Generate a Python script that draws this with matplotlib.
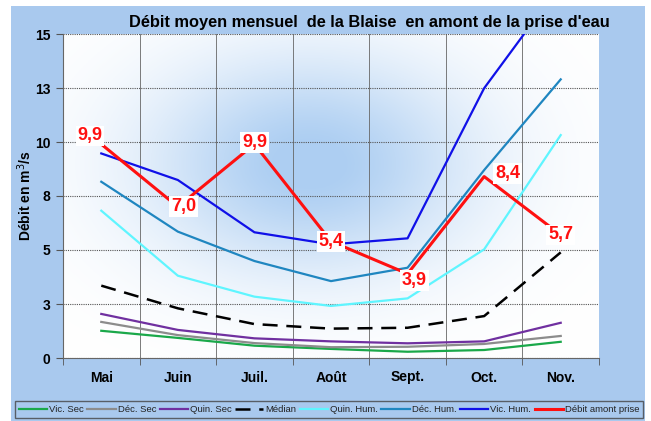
import numpy as np
import matplotlib
matplotlib.use("Agg")
import matplotlib.pyplot as plt
from matplotlib.patches import Rectangle

plt.rcParams["font.family"] = ["Liberation Sans", "DejaVu Sans"]

mois = ["Mai", "Juin", "Juil.", "Août", "Sept.", "Oct.", "Nov."]

vic_sec = [1.26, 0.93, 0.57, 0.42, 0.29, 0.37, 0.75]
dec_sec = [1.67, 1.06, 0.69, 0.50, 0.52, 0.65, 1.02]
quin_sec = [2.04, 1.30, 0.91, 0.77, 0.68, 0.77, 1.63]
median = [3.35, 2.30, 1.57, 1.36, 1.40, 1.94, 4.89]
quin_hum = [6.82, 3.81, 2.84, 2.41, 2.76, 5.03, 10.32]
dec_hum = [8.16, 5.85, 4.49, 3.56, 4.18, 8.70, 12.90]
vic_hum = [9.47, 8.24, 5.82, 5.26, 5.54, 12.49, 17.3]
debit_prise = [9.9, 7.0, 9.9, 5.4, 3.9, 8.4, 5.7]

# offsets of the value labels (points)
label_off = [(-8, 6), (4, 0), (0, 1), (0, 0), (5, -5), (17, 2), (0, 0)]

bg_blue = "#a9c9ee"

fig = plt.figure(figsize=(6.51, 4.21), dpi=100)
fig.patch.set_facecolor("white")
# blue chart area with thin white border top/left/right
fig.patches.append(Rectangle((11 / 651, 0), (645 - 11) / 651, 1 - 6 / 421,
                             transform=fig.transFigure, facecolor=bg_blue,
                             edgecolor="none", zorder=-10))

ax = fig.add_axes([63 / 651, 1 - 358 / 421, (599 - 63) / 651, (358 - 34) / 421])
ax.set_zorder(2)
ax.set_facecolor("white")

# soft blue blob in the plot area
gx, gy = np.meshgrid(np.linspace(0, 1, 300), np.linspace(0, 1, 200))
blob = np.exp(-((gx - 0.46) / 0.30) ** 2 - ((gy - 0.60) / 0.33) ** 2)
blob = np.clip(blob * 1.05, 0, 1)
c0 = np.array([1.0, 1.0, 1.0])
c1 = np.array([0.68, 0.81, 0.95])
img = c0 + (c1 - c0) * blob[..., None]
ax.imshow(img, extent=[0, 1, 0, 1], transform=ax.transAxes, aspect="auto",
          origin="lower", zorder=0)

x = np.arange(len(mois))
series = [
    (vic_sec, "#1aa84a", "-", 1.6, "Vic. Sec"),
    (dec_sec, "#8c8c8c", "-", 1.6, "Déc. Sec"),
    (quin_sec, "#7030a0", "-", 1.6, "Quin. Sec"),
    (median, "black", (0, (6, 3.5)), 1.8, "Médian"),
    (quin_hum, "#5ff5ff", "-", 1.6, "Quin. Hum."),
    (dec_hum, "#1f86c0", "-", 1.6, "Déc. Hum."),
    (vic_hum, "#1010e8", "-", 1.6, "Vic. Hum."),
    (debit_prise, "#ff1010", "-", 2.2, "Débit amont prise"),
]
for vals, col, ls, lw, lab in series:
    ax.plot(x, vals, color=col, linestyle=ls, linewidth=lw, label=lab, zorder=3)

for i, v in enumerate(debit_prise):
    txt = f"{v:.1f}".replace(".", ",")
    ax.annotate(txt, (x[i], v), xytext=label_off[i], textcoords="offset points",
                ha="center", va="center", color="#ff1010", fontsize=13,
                fontweight="bold", zorder=5,
                bbox=dict(boxstyle="square,pad=0.1", facecolor="white",
                          edgecolor="none"))

ax.set_xlim(-0.5, 6.5)
ax.set_ylim(0, 15)
yt = np.arange(0, 15.1, 2.5)
ax.set_yticks(yt)
ax.set_yticklabels([f"{int(np.floor(t + 0.5))}" for t in yt],
                   fontsize=10, fontweight="bold")
ax.set_xticks(x)
ax.set_xticklabels(mois, fontsize=10, fontweight="bold")
ax.set_xticks(np.arange(-0.5, 6.6, 1), minor=True)
ax.tick_params(axis="x", which="major", length=0, pad=9)
ax.tick_params(axis="x", which="minor", length=5, color="#555555", direction="out")
ax.tick_params(axis="y", length=5, color="#555555", direction="out", pad=4)
ax.grid(axis="y", which="major", color="#555555", linestyle=(0, (1, 1)), linewidth=0.8)
ax.grid(axis="x", which="minor", color="#666666", linestyle="-", linewidth=0.6)
for s in ["top", "right"]:
    ax.spines[s].set_visible(False)
for s in ["left", "bottom"]:
    ax.spines[s].set_color("#666666")

ax.set_ylabel("Débit en m$^3$/s", fontsize=10, fontweight="bold", labelpad=1)

fig.text(0.568, 1 - 22 / 421, "Débit moyen mensuel  de la Blaise  en amont de la prise d'eau",
         ha="center", va="center", fontsize=11.8, fontweight="bold")

leg = fig.legend(loc="lower left", bbox_to_anchor=(15 / 651, 3 / 421, 628 / 651, 26 / 421),
                 mode="expand", ncol=8, fontsize=6.8, handlelength=3.0,
                 handletextpad=0.2, columnspacing=0.3, borderaxespad=0,
                 frameon=True, fancybox=False)
leg.get_frame().set_facecolor(bg_blue)
leg.get_frame().set_edgecolor("#444444")
leg.get_frame().set_linewidth(1.0)
for t in leg.get_texts():
    t.set_color("#222222")

fig.savefig("out.png", dpi=100)
